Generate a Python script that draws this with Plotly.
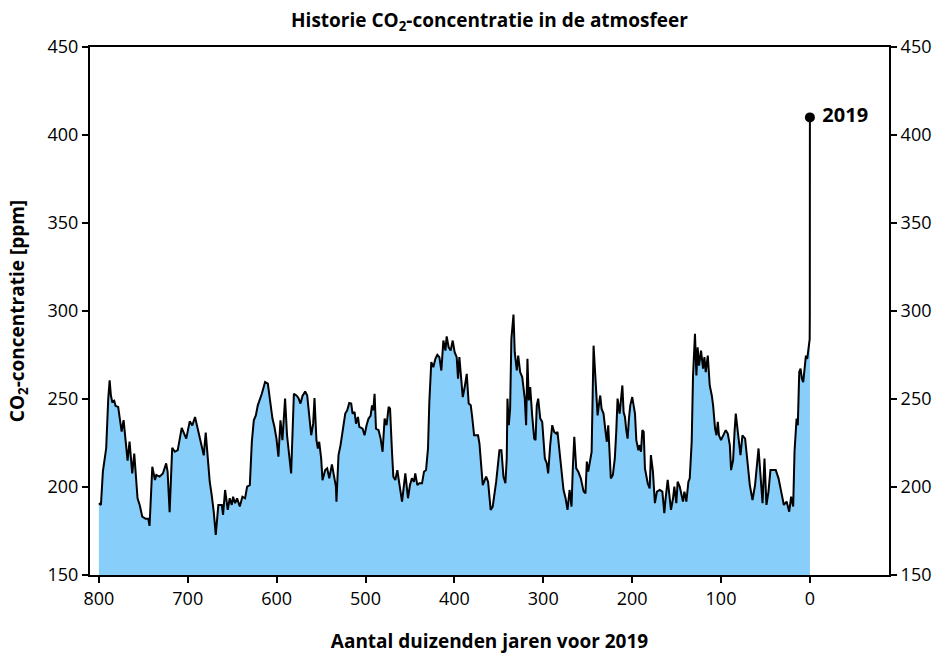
import plotly.graph_objects as go

# Thousands of years before 2019 (ice-core record + modern measurements)
age_kyr = [
    800.0, 797.7, 795.5, 793.2, 791.8, 789.5, 787.9, 786.5, 785.0, 782.8,
    781.2, 778.3, 776.7, 774.4, 772.2, 770.0, 767.7, 765.5, 762.5, 760.2,
    756.5, 754.1, 751.2, 747.4, 744.4, 743.0, 739.9, 736.9, 735.4, 731.7,
    728.0, 724.3, 722.7, 720.4, 717.5, 714.5, 711.3, 706.8, 704.0, 701.7,
    697.8, 694.9, 691.8, 689.6, 687.3, 684.3, 682.0, 679.8, 677.6, 675.3,
    673.1, 670.8, 668.5, 665.6, 661.7, 660.3, 658.0, 655.0, 652.8, 650.5,
    649.0, 646.8, 644.5, 641.5, 638.5, 635.5, 633.2, 630.2, 627.9, 625.7,
    623.4, 621.2, 616.7, 613.0, 609.9, 607.8, 604.7, 602.5, 600.2, 598.0,
    595.7, 593.5, 590.5, 588.3, 585.9, 583.7, 580.6, 577.7, 575.5, 573.2,
    570.9, 567.9, 565.6, 563.4, 561.1, 558.9, 557.4, 555.2, 553.6, 552.1,
    549.9, 548.4, 545.4, 543.1, 540.8, 537.8, 535.6, 533.3, 532.7, 530.4,
    528.1, 525.9, 522.8, 520.6, 518.3, 516.1, 514.6, 512.3, 510.7, 508.5,
    507.0, 503.3, 501.1, 498.8, 496.6, 494.3, 492.7, 491.3, 489.8, 488.2,
    485.3, 483.0, 480.8, 478.5, 476.3, 474.0, 472.4, 470.2, 468.7, 466.5,
    464.2, 462.0, 458.9, 455.2, 452.2, 450.0, 447.8, 445.5, 444.0, 441.7,
    439.4, 436.4, 434.2, 431.9, 429.7, 428.2, 426.0, 423.7, 421.4, 419.2,
    416.9, 414.7, 412.4, 410.1, 408.7, 406.5, 404.2, 401.9, 399.7, 397.4,
    395.9, 394.4, 392.1, 390.6, 388.4, 386.1, 383.9, 381.6, 380.0, 377.8,
    373.4, 371.8, 368.1, 364.3, 362.1, 359.2, 356.9, 353.0, 349.3, 347.1,
    344.8, 342.6, 341.1, 340.3, 338.8, 337.3, 335.9, 333.5, 332.1, 329.8,
    328.2, 326.0, 323.7, 320.8, 319.3, 317.8, 316.3, 314.7, 312.5, 310.2,
    308.7, 307.3, 305.7, 303.4, 301.2, 298.2, 296.0, 294.5, 292.2, 289.9,
    287.7, 285.5, 284.0, 281.7, 279.5, 277.2, 274.9, 272.7, 270.4, 268.2,
    266.7, 265.1, 262.9, 260.6, 257.8, 254.6, 252.5, 251.0, 249.4, 247.1,
    245.6, 243.4, 241.1, 238.9, 237.5, 235.9, 234.4, 232.2, 229.9, 228.5,
    226.9, 225.5, 224.0, 221.7, 219.5, 217.9, 216.4, 214.1, 212.6, 211.0,
    209.6, 208.1, 206.6, 205.1, 203.6, 202.1, 199.9, 198.3, 196.8, 195.3,
    193.0, 191.5, 190.1, 188.5, 187.0, 185.6, 182.5, 180.3, 178.9, 176.6,
    174.4, 172.1, 169.0, 166.0, 163.8, 162.3, 160.0, 157.7, 156.3, 154.0,
    152.5, 150.3, 148.8, 146.5, 144.3, 142.8, 141.2, 139.0, 136.7, 135.2,
    133.0, 131.5, 129.3, 127.7, 126.3, 124.7, 122.5, 120.2, 118.7, 117.2,
    114.9, 112.7, 110.4, 108.9, 106.7, 105.1, 103.6, 102.3, 100.0, 97.7,
    94.7, 92.4, 90.1, 88.7, 86.4, 84.8, 83.4, 81.1, 78.1, 75.9,
    72.9, 70.6, 67.6, 64.6, 61.7, 57.8, 55.6, 53.3, 51.1, 48.9,
    46.6, 44.4, 38.4, 35.3, 32.3, 29.3, 26.2, 23.3, 21.1, 18.8,
    17.3, 15.0, 13.6, 12.0, 10.5, 9.0, 7.5, 6.0, 4.5, 3.0,
    1.4, 0.25, 0.1, 0.06, 0.04, 0.02, 0.0,
]

# CO2 concentration in ppm
co2_ppm = [
    190.8, 189.8, 208.9, 219.0, 222.0, 250.0, 260.6, 252.0, 248.5, 249.0,
    246.0, 245.5, 239.8, 231.5, 238.0, 225.8, 215.0, 225.8, 207.7, 219.0,
    193.6, 189.8, 183.2, 181.9, 181.9, 177.9, 211.5, 204.0, 206.8, 205.9,
    207.7, 213.4, 208.7, 185.7, 222.3, 220.0, 220.9, 233.6, 230.4, 227.5,
    237.3, 235.0, 239.8, 235.0, 228.5, 221.9, 218.0, 230.9, 215.3, 203.0,
    195.5, 186.0, 172.8, 189.8, 189.8, 184.1, 198.3, 187.0, 193.6, 189.8,
    194.5, 190.8, 193.6, 188.9, 194.5, 193.6, 200.2, 201.1, 225.7, 237.9,
    240.7, 246.4, 253.0, 259.6, 258.7, 250.2, 238.9, 234.2, 227.5, 217.2,
    237.9, 226.6, 250.2, 229.4, 216.2, 207.7, 253.0, 252.0, 250.6, 247.4,
    251.7, 254.3, 252.0, 240.7, 229.4, 236.0, 250.6, 226.6, 221.9, 225.7,
    216.2, 203.9, 209.6, 210.6, 204.9, 212.8, 205.9, 200.2, 191.7, 218.1,
    223.8, 230.4, 241.7, 243.6, 247.7, 247.4, 241.7, 242.6, 236.0, 239.8,
    234.2, 233.2, 229.4, 235.1, 238.9, 240.4, 246.4, 243.6, 253.0, 233.2,
    232.3, 227.5, 220.0, 238.9, 235.1, 245.5, 244.5, 220.0, 205.9, 203.9,
    209.6, 202.1, 191.7, 207.7, 193.6, 201.1, 204.9, 203.0, 207.7, 201.1,
    202.1, 202.1, 208.7, 209.6, 221.9, 248.3, 271.0, 268.1, 272.8, 275.1,
    273.8, 266.2, 283.2, 277.5, 285.6, 279.4, 277.5, 283.2, 276.6, 273.8,
    261.5, 273.8, 259.6, 251.1, 256.8, 264.3, 247.4, 246.4, 239.8, 229.4,
    229.4, 224.7, 201.1, 205.9, 203.0, 187.0, 188.9, 203.0, 220.9, 220.9,
    205.9, 202.1, 216.2, 250.2, 235.1, 244.5, 284.1, 298.0, 276.6, 266.2,
    274.7, 265.3, 262.5, 250.2, 235.1, 272.8, 249.2, 256.8, 240.7, 227.5,
    226.6, 246.4, 250.2, 238.9, 237.0, 216.2, 213.4, 207.7, 223.8, 235.1,
    231.3, 230.4, 231.3, 220.0, 206.8, 198.3, 193.6, 187.0, 198.3, 188.9,
    211.5, 228.5, 210.6, 208.7, 204.9, 197.4, 196.4, 214.4, 208.7, 216.2,
    220.0, 280.3, 259.6, 240.7, 246.4, 252.0, 244.5, 241.7, 231.3, 225.7,
    235.1, 218.1, 204.9, 206.8, 216.2, 231.3, 250.2, 241.7, 250.2, 257.7,
    242.6, 239.8, 232.3, 227.5, 238.9, 246.4, 251.1, 246.4, 241.7, 226.6,
    220.9, 223.8, 220.0, 232.3, 231.3, 210.6, 202.1, 199.2, 218.1, 208.7,
    190.8, 197.4, 198.3, 197.4, 185.1, 193.6, 204.0, 193.6, 187.0, 193.6,
    200.2, 190.8, 203.0, 200.2, 195.5, 191.7, 197.4, 191.7, 203.0, 204.9,
    225.7, 263.4, 287.0, 263.4, 279.4, 269.0, 277.5, 267.2, 273.8, 265.3,
    274.7, 257.7, 252.0, 246.4, 233.2, 229.4, 237.0, 229.4, 226.6, 229.4,
    232.3, 230.4, 223.8, 209.6, 215.3, 231.3, 241.7, 231.3, 218.1, 229.4,
    227.5, 216.2, 201.1, 192.6, 201.1, 221.9, 208.7, 190.8, 216.2, 189.8,
    197.4, 209.6, 209.6, 204.9, 197.4, 189.8, 191.7, 186.0, 194.5, 188.9,
    220.0, 238.9, 235.1, 265.3, 267.2, 261.5, 259.6, 269.0, 274.7, 272.8,
    280.3, 284.0, 298.0, 318.0, 340.0, 370.0, 410.0,
]

label_year = "2019"
x_ticks = [800, 700, 600, 500, 400, 300, 200, 100, 0]
y_ticks = [150, 200, 250, 300, 350, 400, 450]

font_family = "Open Sans, Noto Sans, sans-serif"

W, H = 933, 654
ML, MR, MT, MB = 90, 44, 47, 79

fig = go.Figure()
fig.add_trace(go.Scatter(
    x=age_kyr, y=co2_ppm, mode="lines",
    line=dict(color="black", width=2),
    fill="tozeroy", fillcolor="#87CEFA",
    showlegend=False, hoverinfo="x+y",
))
fig.add_trace(go.Scatter(
    x=[age_kyr[-1]], y=[co2_ppm[-1]], mode="markers+text",
    marker=dict(color="black", size=10),
    text=[" <b>" + label_year + "</b>"], textposition="middle right",
    textfont=dict(size=20, color="black", family=font_family),
    showlegend=False,
))
# invisible trace so the right-hand axis is drawn
fig.add_trace(go.Scatter(x=[None], y=[None], yaxis="y2", showlegend=False))

plot_center = (ML + (W - MR)) / 2 / W

fig.update_layout(
    width=W, height=H,
    margin=dict(l=ML, r=MR, t=MT, b=MB, autoexpand=False),
    paper_bgcolor="white", plot_bgcolor="white",
    font=dict(family=font_family, size=18, color="black"),
    title=dict(text="<b>Historie CO<sub>2</sub>-concentratie in de atmosfeer</b>",
               x=plot_center, xanchor="center",
               y=1 - 20 / H, yanchor="middle", font=dict(size=19)),
    xaxis=dict(
        range=[810, -89], tickvals=x_ticks, showgrid=False, zeroline=False,
        showline=True, linecolor="black", linewidth=2, mirror=True,
        ticks="outside", ticklen=6, tickwidth=1.5, tickcolor="black",
        title=dict(text="<b>Aantal duizenden jaren voor 2019</b>",
                   font=dict(size=19), standoff=38),
    ),
    yaxis=dict(
        range=[150, 450], tickvals=y_ticks, showgrid=False, zeroline=False,
        showline=True, linecolor="black", linewidth=2,
        ticks="outside", ticklen=6, tickwidth=1.5, tickcolor="black",
        title=dict(text="<b>CO<sub>2</sub>-concentratie [ppm]</b>",
                   font=dict(size=19), standoff=18),
    ),
    yaxis2=dict(
        range=[150, 450], tickvals=y_ticks, overlaying="y", side="right",
        showgrid=False, zeroline=False, showline=True, linecolor="black",
        linewidth=2, ticks="outside", ticklen=6, tickwidth=1.5,
        tickcolor="black",
    ),
)

# remove the default page margin so the figure fills the 933x654 window exactly
fig.write_html(
    "out.html",
    config={"displayModeBar": False},
    post_script="document.body.style.margin='0';document.body.style.overflow='hidden';",
)
